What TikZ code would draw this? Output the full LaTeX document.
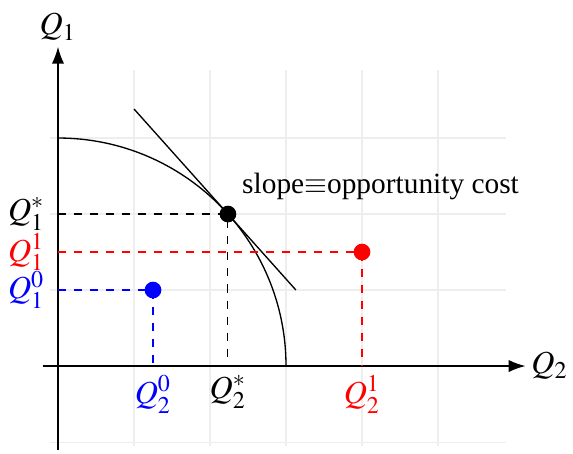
\documentclass[tikz,border=0pt]{standalone}
\usepackage{mathptmx}
\usepackage{fontspec}
\setmainfont{Liberation Serif}
\usetikzlibrary{arrows.meta}
\begin{document}
\begin{tikzpicture}[x=1cm,y=1cm,
  gridline/.style={gray!13, line width=0.4pt},
  axisline/.style={-{Latex[length=2.2mm,width=1.6mm]}, line width=0.5pt},
  guide/.style={dashed, line width=0.4pt},
  dotmark/.style={circle, fill, inner sep=0pt, minimum size=2.2mm},
  lbl/.style={font=\fontsize{12}{14}\selectfont, inner sep=2pt}]
\useasboundingbox (-0.763,-1.145) rectangle (6.776,4.816);
\draw[gridline] (-0.1,-1.05) grid (5.9,3.9);
% axes
\coordinate (xs) at (-0.2,0);
\coordinate (xe) at (6.15,0);
\coordinate (ys) at (0,-1.1);
\coordinate (ye) at (0,4.2);
\draw[axisline] (xs) -- (xe) node[right, lbl] (q2) {$Q_2$};
\draw[axisline] (ys) -- (ye) node[above, lbl] (q1) {$Q_1$};
% PPF
\draw[line width=0.5pt] (0,3) arc[start angle=90, end angle=0, radius=3];
% tangent
\coordinate (t1) at (1,3.382);
\coordinate (t2) at (3.13,1.0);
\draw[line width=0.5pt] (t1) -- (t2);
% points
\node[dotmark, black] (ps) at (2.236,2) {};
\node[dotmark, red] (p1) at (4,1.5) {};
\node[dotmark, blue] (p0) at (1.25,1) {};
% axis feet
\coordinate (ys0) at (0,2);
\coordinate (ys1) at (0,1.5);
\coordinate (ys2) at (0,1);
\coordinate (xs0) at (2.236,0);
\coordinate (xs1) at (4,0);
\coordinate (xs2) at (1.25,0);
\draw[guide, black] (ys0) -- (ps.center) -- (xs0);
\draw[guide, red] (ys1) -- (p1.center) -- (xs1);
\draw[guide, blue] (ys2) -- (p0.center) -- (xs2);
% labels
\node[lbl, anchor=east, black] (l1s) at (-0.1,2) {$Q_1^*$};
\node[lbl, anchor=east, red] (l11) at (-0.1,1.5) {$Q_1^1$};
\node[lbl, anchor=east, blue] (l10) at (-0.1,1) {$Q_1^0$};
\node[lbl, anchor=north, black] (l2s) at (2.236,-0.05) {$Q_2^*$};
\node[lbl, anchor=north, red] (l21) at (4,-0.05) {$Q_2^1$};
\node[lbl, anchor=north, blue] (l20) at (1.25,-0.05) {$Q_2^0$};
\node[anchor=west, font=\fontsize{11}{13}\selectfont] (slope) at (2.3,2.36) {slope$\equiv$opportunity cost};
\end{tikzpicture}
\end{document}
